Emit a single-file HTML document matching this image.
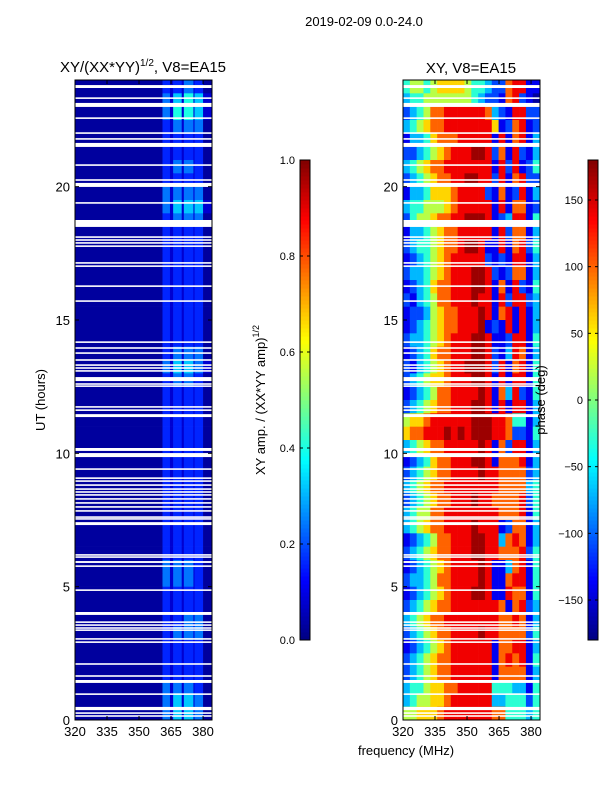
<!DOCTYPE html>
<html><head><meta charset="utf-8"><style>
html,body{margin:0;padding:0;background:#fff;}
svg{display:block;font-family:"Liberation Sans",sans-serif;}
</style></head><body>
<svg id="fig" width="600" height="800" viewBox="0 0 600 800" xmlns="http://www.w3.org/2000/svg">
<rect x="0" y="0" width="600" height="800" fill="#fff"/>
<text x="364" y="26" font-size="13" text-anchor="middle">2019-02-09 0.0-24.0</text>
<text x="143" y="72" font-size="15" text-anchor="middle">XY/(XX*YY)<tspan font-size="10" dy="-6">1/2</tspan><tspan dy="6">, V8=EA15</tspan></text>
<text x="471" y="73" font-size="15" text-anchor="middle">XY, V8=EA15</text>
<text transform="translate(45,400) rotate(-90)" font-size="13" text-anchor="middle">UT (hours)</text>
<text transform="translate(265,400) rotate(-90)" font-size="13" text-anchor="middle">XY amp. / (XX*YY amp)<tspan font-size="9" dy="-6">1/2</tspan></text>
<g id="ampPanel"></g>
<g id="phPanel"></g>
<g id="cbars"></g>
<text transform="translate(545,400) rotate(-90)" font-size="13" text-anchor="middle">phase (deg)</text>
<text x="406" y="755" font-size="13" text-anchor="middle">frequency (MHz)</text>
</svg>
<script>
// ---- data ----
const ampFreqEdges = [320,361,364.5,366,370,371,375.5,376,380,384.2];
const ampRows = [ // top (23.5-24h) to bottom (0-0.5h); digit d -> amp d*0.08
"021213120","031415141","031515141","021313130","021212120","021212120","021313120","021212120",
"031313130","031414141","021313130","021212120","021212120","021212120","021212120","021212120",
"021212120","021212120","021212120","021212120","021313130","031414131","021313120","021212120",
"021212120","021212120","021212120","021212120","021212120","021212120","021212120","021212120",
"021212120","021212120","021212120","021212120","031313120","031313120","021212120","021212120",
"021213130","021313130","021212120","021212120","021212120","031313120","031414130","031414130"];
const phFreqEdges = [320,323.2,326.4,329.6,332.8,336,339.2,342.4,345.6,348.8,352,355.2,358.4,361.6,364.8,368,371.2,374.4,377.6,380.8,384.2];
const phLevels = [-170,-140,-110,-70,-30,20,60,100,140,170]; // digit -> phase (deg)
const phRows = [ // top to bottom
"45545666654432278811","34455555554322178210","23457788888873218822","34567788888886127812",
"13346777888881817813","22345678889982718213","34567788888881828124","23456778899882817822",
"13346667888821712813","34455567888881817712","24556778899981238814","13345677888881827713",
"23445677899811817824","12345678888821218813","23345678889982127713","12346778889981718214",
"21345778889881828823","12235677888981781813","12345677888912181813","23345678889981128814",
"12346778889982138713","21345678899982817814","23456678889981818814","12345778888981738214",
"23456778889981818813","56678888889998874413","67788898989998872214","34567788888981728813",
"12346778889981777813","23456778888988777723","34567788888888777734","23456778889887777824",
"34557788888888777814","34567788889888127713","12345778889988378713","23456778889988777824",
"12345678888981137814","23345778888981178814","12345678889981187714","23456778888888717823",
"34567788888888778713","23456778888988777724","12345678888881778813","23456778888881787814",
"23456778888881777713","34456677888884443314","34556678888883344424","55666788888887744434"];
const flags = [[23.70,23.81],[23.29,23.35],[22.99,23.14],[22.54,22.60],[21.98,22.04],[21.76,21.82],[21.49,21.64],
[20.78,20.84],[20.22,20.28],[19.99,20.14],[19.36,19.42],[18.49,18.75],[18.08,18.14],[17.97,18.03],[17.86,17.92],[17.74,17.80],
[17.11,17.17],[16.99,17.05],[16.24,16.30],[15.68,15.74],[14.14,14.20],[13.92,13.98],[13.73,13.79],[13.47,13.53],[13.28,13.34],
[13.17,13.23],[13.06,13.12],[12.71,12.86],[12.57,12.63],[12.49,12.55],[11.71,11.77],[11.59,11.65],[11.36,11.47],[10.09,10.20],
[9.86,10.01],[9.38,9.44],[9.04,9.10],[8.93,8.99],[8.78,8.84],[8.63,8.69],[8.52,8.58],[8.41,8.47],[8.26,8.32],[8.11,8.17],
[7.96,8.02],[7.81,7.87],[7.58,7.64],[7.51,7.57],[7.31,7.42],[6.16,6.22],[6.08,6.14],[5.89,5.96],[5.74,5.80],[4.84,4.90],
[3.94,4.05],[3.64,3.70],[3.53,3.59],[3.42,3.48],[3.34,3.40],[3.01,3.07],[2.89,2.95],[2.07,2.13],[1.62,1.68],[1.39,1.50],
[0.94,1.00],[0.37,0.49],[0.23,0.29],[0.12,0.18]];
const xTicks = [320,335,350,365,380];
const yTicks = [0,5,10,15,20];
const ampTicks = [0.0,0.2,0.4,0.6,0.8,1.0];
const phTicks = [-150,-100,-50,0,50,100,150];

// ---- helpers ----
const NS="http://www.w3.org/2000/svg";
function jet(v){v=Math.max(0,Math.min(1,v));
 const f=t=>Math.max(0,Math.min(1,1.5-Math.abs(t)));
 const r=f(4*v-3),g=f(4*v-2),b=f(4*v-1);
 return `rgb(${Math.round(r*255)},${Math.round(g*255)},${Math.round(b*255)})`;}
function mk(tag,attrs,parent){const e=document.createElementNS(NS,tag);for(const k in attrs)e.setAttribute(k,attrs[k]);parent.appendChild(e);return e;}
const Y0=720,Y1=80,F0=320,F1=384.2;
const yS=h=>Y0-(h/24)*(Y0-Y1);
function panel(g,x0,edges,rows,valFn,namePrefix){
 const W=137; const xS=f=>x0+(f-F0)/(F1-F0)*W;
 const n=rows.length, dh=24/n;
 rows.forEach((row,ri)=>{const hTop=24-ri*dh;
  for(let c=0;c<edges.length-1;c++){
   const r=mk('rect',{x:xS(edges[c]).toFixed(2),y:yS(hTop).toFixed(2),width:(xS(edges[c+1])-xS(edges[c])+0.3).toFixed(2),height:(yS(hTop-dh)-yS(hTop)+0.3).toFixed(2),fill:jet(valFn(+row[c]))},g);
   
   
  }});
 flags.forEach(fl=>{const r=mk('rect',{x:x0,y:yS(fl[1]).toFixed(2),width:W,height:Math.max(1.5,yS(fl[0])-yS(fl[1])).toFixed(2),fill:'#fff'},g);
  
  });
 mk('rect',{x:x0,y:Y1,width:W,height:Y0-Y1,fill:'none',stroke:'#000','stroke-width':1},g);
 xTicks.forEach(t=>{const x=xS(t);
  mk('line',{x1:x,x2:x,y1:Y0,y2:Y0-4,stroke:'#000'},g);
  mk('line',{x1:x,x2:x,y1:Y1,y2:Y1+4,stroke:'#000'},g);
  const tx=mk('text',{x:x,y:Y0+16,'font-size':13,'text-anchor':'middle'},g);tx.textContent=t;
  
  });
 yTicks.forEach(t=>{const y=yS(t);
  mk('line',{x1:x0,x2:x0+4,y1:y,y2:y,stroke:'#000'},g);
  mk('line',{x1:x0+W,x2:x0+W-4,y1:y,y2:y,stroke:'#000'},g);
  const tx=mk('text',{x:x0-5,y:y+5,'font-size':13,'text-anchor':'end'},g);tx.textContent=t;
  
  });
}
panel(document.getElementById('ampPanel'),75,ampFreqEdges,ampRows,d=>d===0?0.03:d*0.08,'amp');
panel(document.getElementById('phPanel'),403,phFreqEdges,phRows,d=>(phLevels[d]+180)/360,'phase');

function cbar(g,x,vmin,vmax,ticks,fmt,name){
 const top=160,bot=640,w=10,N=120;
 for(let i=0;i<N;i++){const r=mk('rect',{x:x,y:(bot-(i+1)*(bot-top)/N).toFixed(2),width:w,height:((bot-top)/N+0.5).toFixed(2),fill:jet((i+0.5)/N)},g);
  
  }
 mk('rect',{x:x,y:top,width:w,height:bot-top,fill:'none',stroke:'#000'},g);
 ticks.forEach(t=>{const y=bot-(t-vmin)/(vmax-vmin)*(bot-top);
  mk('line',{x1:x,x2:x+3,y1:y,y2:y,stroke:'#000'},g);
  mk('line',{x1:x+w,x2:x+w-3,y1:y,y2:y,stroke:'#000'},g);
  const tx=mk('text',{x:x-5,y:y+4,'font-size':11,'text-anchor':'end'},g);tx.textContent=fmt(t);
  
  });
}
const cg=document.getElementById('cbars');
cbar(cg,300,0,1,ampTicks,t=>t.toFixed(1),'amp-colorbar');
cbar(cg,588,-180,180,phTicks,t=>t<0?'\u2212'+(-t):String(t),'phase-colorbar');
</script>
</body></html>
